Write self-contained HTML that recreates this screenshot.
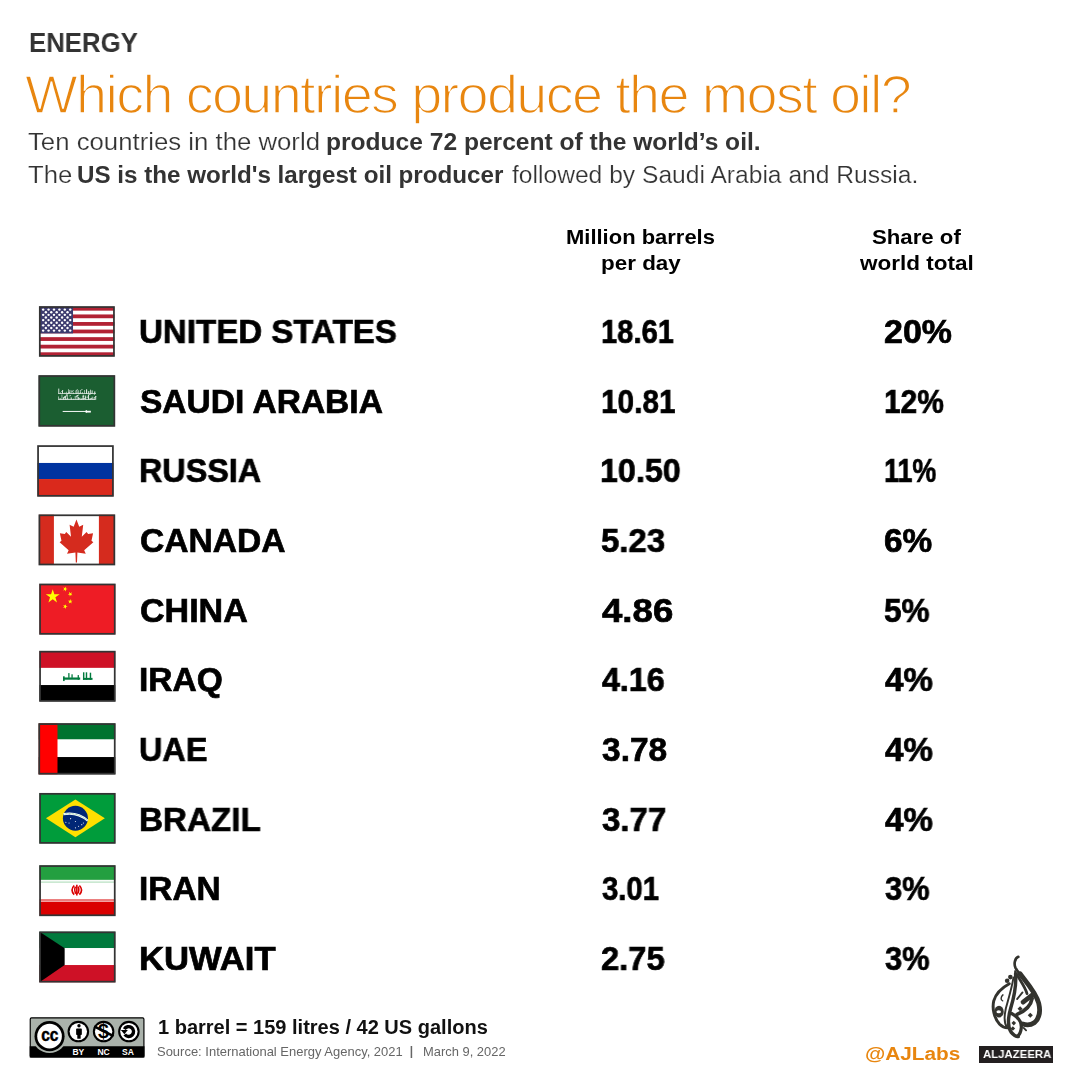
<!DOCTYPE html>
<html><head><meta charset="utf-8"><style>
html,body{margin:0;padding:0;background:#fff;width:1080px;height:1080px;overflow:hidden;position:relative}
.t{position:absolute;white-space:nowrap;font-family:"Liberation Sans",sans-serif;transform-origin:0 0;will-change:transform}
.f{position:absolute;display:block}
</style></head><body>
<svg class="f" style="left:34px;top:302px" width="86" height="60" viewBox="0 0 1080 753"><defs><clipPath id="c302"><rect x="67" y="57" width="943" height="626"/></clipPath></defs><g clip-path="url(#c302)"><rect x="62" y="52" width="953" height="636" fill="#fff"/><rect x="62" y="61.0" width="953" height="47.5" fill="#B22234"/><rect x="62" y="156.1" width="953" height="47.5" fill="#B22234"/><rect x="62" y="251.2" width="953" height="47.5" fill="#B22234"/><rect x="62" y="346.2" width="953" height="47.5" fill="#B22234"/><rect x="62" y="441.3" width="953" height="47.5" fill="#B22234"/><rect x="62" y="536.4" width="953" height="47.5" fill="#B22234"/><rect x="62" y="631.5" width="953" height="47.5" fill="#B22234"/><rect x="62" y="52" width="428" height="341.8" fill="#3C3B6E"/><circle cx="115" cy="95" r="15" fill="#fff"/><circle cx="183" cy="95" r="15" fill="#fff"/><circle cx="251" cy="95" r="15" fill="#fff"/><circle cx="319" cy="95" r="15" fill="#fff"/><circle cx="387" cy="95" r="15" fill="#fff"/><circle cx="455" cy="95" r="15" fill="#fff"/><circle cx="149" cy="128" r="15" fill="#fff"/><circle cx="217" cy="128" r="15" fill="#fff"/><circle cx="285" cy="128" r="15" fill="#fff"/><circle cx="353" cy="128" r="15" fill="#fff"/><circle cx="421" cy="128" r="15" fill="#fff"/><circle cx="115" cy="161" r="15" fill="#fff"/><circle cx="183" cy="161" r="15" fill="#fff"/><circle cx="251" cy="161" r="15" fill="#fff"/><circle cx="319" cy="161" r="15" fill="#fff"/><circle cx="387" cy="161" r="15" fill="#fff"/><circle cx="455" cy="161" r="15" fill="#fff"/><circle cx="149" cy="194" r="15" fill="#fff"/><circle cx="217" cy="194" r="15" fill="#fff"/><circle cx="285" cy="194" r="15" fill="#fff"/><circle cx="353" cy="194" r="15" fill="#fff"/><circle cx="421" cy="194" r="15" fill="#fff"/><circle cx="115" cy="227" r="15" fill="#fff"/><circle cx="183" cy="227" r="15" fill="#fff"/><circle cx="251" cy="227" r="15" fill="#fff"/><circle cx="319" cy="227" r="15" fill="#fff"/><circle cx="387" cy="227" r="15" fill="#fff"/><circle cx="455" cy="227" r="15" fill="#fff"/><circle cx="149" cy="260" r="15" fill="#fff"/><circle cx="217" cy="260" r="15" fill="#fff"/><circle cx="285" cy="260" r="15" fill="#fff"/><circle cx="353" cy="260" r="15" fill="#fff"/><circle cx="421" cy="260" r="15" fill="#fff"/><circle cx="115" cy="293" r="15" fill="#fff"/><circle cx="183" cy="293" r="15" fill="#fff"/><circle cx="251" cy="293" r="15" fill="#fff"/><circle cx="319" cy="293" r="15" fill="#fff"/><circle cx="387" cy="293" r="15" fill="#fff"/><circle cx="455" cy="293" r="15" fill="#fff"/><circle cx="149" cy="326" r="15" fill="#fff"/><circle cx="217" cy="326" r="15" fill="#fff"/><circle cx="285" cy="326" r="15" fill="#fff"/><circle cx="353" cy="326" r="15" fill="#fff"/><circle cx="421" cy="326" r="15" fill="#fff"/><circle cx="115" cy="359" r="15" fill="#fff"/><circle cx="183" cy="359" r="15" fill="#fff"/><circle cx="251" cy="359" r="15" fill="#fff"/><circle cx="319" cy="359" r="15" fill="#fff"/><circle cx="387" cy="359" r="15" fill="#fff"/><circle cx="455" cy="359" r="15" fill="#fff"/></g><rect x="73" y="63" width="931" height="614" fill="none" stroke="#333333" stroke-width="22"/></svg><svg class="f" style="left:34px;top:370px" width="86" height="60" viewBox="0 0 1080 753"><defs><clipPath id="c370"><rect x="60" y="70" width="955" height="637"/></clipPath></defs><g clip-path="url(#c370)"><rect x="0" y="0" width="1080" height="753" fill="#1B5E31"/><g fill="#fff" opacity="0.85"><rect x="305" y="233" width="12" height="67"/><rect x="329" y="281" width="8" height="19"/><rect x="352" y="253" width="12" height="47"/><rect x="384" y="283" width="10" height="17"/><rect x="407" y="272" width="8" height="28"/><rect x="430" y="240" width="8" height="60"/><rect x="446" y="250" width="10" height="50"/><rect x="472" y="253" width="8" height="47"/><rect x="492" y="282" width="10" height="18"/><rect x="522" y="262" width="12" height="38"/><rect x="548" y="254" width="12" height="46"/><rect x="577" y="253" width="8" height="47"/><rect x="601" y="280" width="12" height="20"/><rect x="631" y="251" width="8" height="49"/><rect x="653" y="242" width="14" height="58"/><rect x="680" y="265" width="14" height="35"/><rect x="704" y="247" width="10" height="53"/><rect x="724" y="256" width="12" height="44"/><rect x="756" y="269" width="14" height="31"/><rect x="305" y="290" width="465" height="10"/><rect x="305" y="332" width="8" height="43"/><rect x="322" y="352" width="12" height="23"/><rect x="347" y="307" width="8" height="68"/><rect x="363" y="341" width="12" height="34"/><rect x="386" y="328" width="14" height="47"/><rect x="414" y="308" width="8" height="67"/><rect x="435" y="357" width="8" height="18"/><rect x="460" y="344" width="14" height="31"/><rect x="487" y="359" width="12" height="16"/><rect x="512" y="326" width="10" height="49"/><rect x="536" y="318" width="10" height="57"/><rect x="554" y="338" width="10" height="37"/><rect x="585" y="356" width="14" height="19"/><rect x="612" y="311" width="12" height="64"/><rect x="643" y="321" width="12" height="54"/><rect x="677" y="307" width="14" height="68"/><rect x="699" y="352" width="10" height="23"/><rect x="726" y="333" width="8" height="42"/><rect x="749" y="344" width="12" height="31"/><rect x="769" y="326" width="12" height="49"/><rect x="305" y="365" width="465" height="10"/><rect x="366" y="352" width="44" height="9" transform="rotate(-30 366 352)"/><rect x="605" y="336" width="29" height="9" transform="rotate(-30 605 336)"/><rect x="702" y="364" width="35" height="9" transform="rotate(-30 702 364)"/><rect x="562" y="292" width="27" height="9" transform="rotate(-30 562 292)"/><rect x="527" y="292" width="21" height="9" transform="rotate(-30 527 292)"/><rect x="753" y="297" width="18" height="9" transform="rotate(-30 753 297)"/><rect x="580" y="253" width="32" height="9" transform="rotate(-30 580 253)"/><rect x="551" y="363" width="33" height="9" transform="rotate(-30 551 363)"/><rect x="342" y="267" width="26" height="9" transform="rotate(-30 342 267)"/><rect x="595" y="364" width="33" height="9" transform="rotate(-30 595 364)"/><rect x="523" y="255" width="30" height="9" transform="rotate(-30 523 255)"/><rect x="750" y="302" width="24" height="9" transform="rotate(-30 750 302)"/><rect x="375" y="337" width="37" height="9" transform="rotate(-30 375 337)"/><rect x="525" y="330" width="30" height="9" transform="rotate(-30 525 330)"/><rect x="402" y="364" width="26" height="9" transform="rotate(-30 402 364)"/><rect x="621" y="359" width="38" height="9" transform="rotate(-30 621 359)"/><rect x="444" y="324" width="18" height="9" transform="rotate(-30 444 324)"/><rect x="690" y="307" width="42" height="9" transform="rotate(-30 690 307)"/><rect x="470" y="269" width="31" height="9" transform="rotate(-30 470 269)"/><rect x="536" y="323" width="33" height="9" transform="rotate(-30 536 323)"/><rect x="665" y="339" width="21" height="9" transform="rotate(-30 665 339)"/><rect x="418" y="292" width="39" height="9" transform="rotate(-30 418 292)"/><rect x="400" y="304" width="37" height="9" transform="rotate(-30 400 304)"/><rect x="755" y="343" width="29" height="9" transform="rotate(-30 755 343)"/><rect x="397" y="319" width="25" height="9" transform="rotate(-30 397 319)"/></g><rect x="360" y="514" width="300" height="12" fill="#fff"/><rect x="648" y="505" width="18" height="32" fill="#fff"/><rect x="662" y="512" width="52" height="22" fill="#fff"/></g><rect x="66" y="76" width="943" height="625" fill="none" stroke="#333333" stroke-width="22"/></svg><svg class="f" style="left:34px;top:440px" width="86" height="60" viewBox="0 0 1080 753"><defs><clipPath id="c440"><rect x="45" y="70" width="952" height="637"/></clipPath></defs><g clip-path="url(#c440)"><rect width="1080" height="288" fill="#fff"/><rect y="288" width="1080" height="202" fill="#0033A0"/><rect y="490" width="1080" height="263" fill="#DA291C"/></g><rect x="51" y="76" width="940" height="625" fill="none" stroke="#333333" stroke-width="22"/></svg><svg class="f" style="left:34px;top:510px" width="86" height="60" viewBox="0 0 1080 753"><defs><clipPath id="c510"><rect x="62" y="60" width="953" height="630"/></clipPath></defs><g clip-path="url(#c510)"><rect width="1080" height="753" fill="#fff"/><rect width="250" height="753" fill="#D52B1E"/><rect x="815" width="265" height="753" fill="#D52B1E"/><polygon points="533,118 568,210 618,185 600,335 660,275 680,300 742,292 722,385 745,405 630,505 650,548 545,532 540,660 525,660 520,532 415,548 435,505 322,405 345,385 325,292 387,300 405,275 465,335 447,185 498,210" fill="#D52B1E"/></g><rect x="68" y="66" width="941" height="618" fill="none" stroke="#333333" stroke-width="22"/></svg><svg class="f" style="left:34px;top:578px" width="86" height="60" viewBox="0 0 1080 753"><defs><clipPath id="c578"><rect x="70" y="75" width="950" height="632"/></clipPath></defs><g clip-path="url(#c578)"><rect width="1080" height="753" fill="#EE1C25"/><polygon points="235.0,140.0 255.7,203.6 322.5,203.6 268.4,242.9 289.1,306.4 235.0,267.1 180.9,306.4 201.6,242.9 147.5,203.6 214.3,203.6" fill="#FFFF00"/><polygon points="402.9,107.9 402.1,131.2 424.0,139.1 401.6,145.5 400.8,168.8 387.8,149.5 365.5,155.9 379.8,137.6 366.8,118.3 388.6,126.2" fill="#FFFF00"/><polygon points="477.6,179.4 467.1,200.1 483.5,216.5 460.5,212.9 450.0,233.6 446.4,210.6 423.4,207.0 444.1,196.5 440.5,173.5 456.9,189.9" fill="#FFFF00"/><polygon points="455.0,263.0 462.2,285.1 485.4,285.1 466.6,298.8 473.8,320.9 455.0,307.2 436.2,320.9 443.4,298.8 424.6,285.1 447.8,285.1" fill="#FFFF00"/><polygon points="402.9,327.9 402.1,351.2 424.0,359.1 401.6,365.5 400.8,388.8 387.8,369.5 365.5,375.9 379.8,357.6 366.8,338.3 388.6,346.2" fill="#FFFF00"/></g><rect x="76" y="81" width="938" height="620" fill="none" stroke="#333333" stroke-width="22"/></svg><svg class="f" style="left:34px;top:646px" width="86" height="60" viewBox="0 0 1080 753"><defs><clipPath id="c646"><rect x="70" y="65" width="950" height="630"/></clipPath></defs><g clip-path="url(#c646)"><rect width="1080" height="275" fill="#CE1126"/><rect y="275" width="1080" height="215" fill="#fff"/><rect y="490" width="1080" height="263" fill="#000"/><g fill="#007A3D"><rect x="615" y="330" width="18" height="95"/><rect x="650" y="330" width="18" height="95"/><rect x="700" y="335" width="18" height="90"/><rect x="615" y="400" width="120" height="25"/><rect x="548" y="365" width="16" height="60"/><rect x="365" y="395" width="215" height="28"/><rect x="430" y="340" width="16" height="60"/><rect x="470" y="355" width="16" height="45"/><rect x="365" y="380" width="20" height="60"/></g></g><rect x="76" y="71" width="938" height="618" fill="none" stroke="#333333" stroke-width="22"/></svg><svg class="f" style="left:34px;top:718px" width="86" height="60" viewBox="0 0 1080 753"><defs><clipPath id="c718"><rect x="60" y="70" width="960" height="635"/></clipPath></defs><g clip-path="url(#c718)"><rect width="1080" height="270" fill="#00732F"/><rect y="270" width="1080" height="220" fill="#fff"/><rect y="490" width="1080" height="263" fill="#000"/><rect width="295" height="753" fill="#FF0000"/></g><rect x="66" y="76" width="948" height="623" fill="none" stroke="#333333" stroke-width="22"/></svg><svg class="f" style="left:34px;top:788px" width="86" height="60" viewBox="0 0 1080 753"><defs><clipPath id="c788"><rect x="70" y="67" width="950" height="628"/></clipPath></defs><g clip-path="url(#c788)"><rect width="1080" height="753" fill="#009C3B"/><polygon points="150,380 520,145 890,380 520,618" fill="#FEDF00"/><circle cx="520" cy="380" r="157" fill="#002776"/><path d="M368,330 Q540,295 675,410" stroke="#fff" stroke-width="26" fill="none"/><path d="M368,330 Q540,295 675,410" stroke="#2E9E50" stroke-width="8" stroke-dasharray="10 8" fill="none"/><circle cx="400" cy="430" r="7" fill="#fff"/><circle cx="440" cy="440" r="7" fill="#fff"/><circle cx="520" cy="420" r="7" fill="#fff"/><circle cx="560" cy="480" r="7" fill="#fff"/><circle cx="600" cy="460" r="7" fill="#fff"/><circle cx="620" cy="440" r="7" fill="#fff"/><circle cx="460" cy="385" r="7" fill="#fff"/><circle cx="520" cy="500" r="7" fill="#fff"/></g><rect x="76" y="73" width="938" height="616" fill="none" stroke="#333333" stroke-width="22"/></svg><svg class="f" style="left:34px;top:860px" width="86" height="60" viewBox="0 0 1080 753"><defs><clipPath id="c860"><rect x="70" y="70" width="950" height="630"/></clipPath></defs><g clip-path="url(#c860)"><rect width="1080" height="255" fill="#239F40"/><rect y="255" width="1080" height="245" fill="#fff"/><rect y="500" width="1080" height="253" fill="#DA0000"/><rect y="248" width="1080" height="18" fill="#fff" opacity="0.7"/><rect y="272" width="1080" height="10" fill="#239F40" opacity="0.5"/><rect y="492" width="1080" height="10" fill="#DA0000" opacity="0.5"/><rect y="506" width="1080" height="20" fill="#fff" opacity="0.7"/><g fill="none" stroke="#DA0000" stroke-width="20"><path d="M505,320 Q450,375 505,435"/><path d="M570,320 Q625,375 570,435"/><path d="M520,335 Q498,385 530,425"/><path d="M555,335 Q577,385 545,425"/><path d="M538,312 L538,445"/></g></g><rect x="76" y="76" width="938" height="618" fill="none" stroke="#333333" stroke-width="22"/></svg><svg class="f" style="left:34px;top:926px" width="86" height="60" viewBox="0 0 1080 753"><defs><clipPath id="c926"><rect x="70" y="73" width="950" height="632"/></clipPath></defs><g clip-path="url(#c926)"><rect width="1080" height="278" fill="#007A3D"/><rect y="278" width="1080" height="212" fill="#fff"/><rect y="490" width="1080" height="263" fill="#CE1126"/><polygon points="65,68 385,278 385,490 65,710" fill="#000"/></g><rect x="76" y="79" width="938" height="620" fill="none" stroke="#333333" stroke-width="22"/></svg>
<svg class="f" style="left:20px;top:1005px" width="140" height="65" viewBox="0 0 1080 501"><rect x="79" y="99" width="877" height="302" rx="10" fill="#AAB2AB" stroke="#000" stroke-width="9"/><rect x="75" y="318" width="885" height="87" fill="#000"/><circle cx="228" cy="240" r="131" fill="#AAB2AB"/><circle cx="228" cy="240" r="116" fill="#000"/><circle cx="228" cy="240" r="95" fill="#fff"/><text x="163" y="277" font-family="Liberation Sans" font-weight="700" font-size="142" fill="#000" textLength="133" lengthAdjust="spacingAndGlyphs" stroke="#000" stroke-width="4">cc</text><circle cx="450" cy="205" r="83" fill="#000"/><circle cx="450" cy="205" r="67" fill="#fff"/><circle cx="645" cy="205" r="83" fill="#000"/><circle cx="645" cy="205" r="67" fill="#fff"/><circle cx="840" cy="205" r="83" fill="#000"/><circle cx="840" cy="205" r="67" fill="#fff"/><circle cx="455" cy="160" r="13" fill="#000"/><rect x="433" y="182" width="44" height="50" rx="6" fill="#000"/><rect x="442" y="225" width="26" height="35" fill="#000"/><text x="643" y="258" text-anchor="middle" font-family="Liberation Sans" font-weight="700" font-size="150" fill="#000">$</text><line x1="572" y1="165" x2="722" y2="240" stroke="#000" stroke-width="20"/><path d="M805,186 A38,38 0 1 1 808,228" fill="none" stroke="#000" stroke-width="26"/><polygon points="778,192 832,192 805,226" fill="#000"/><text x="450" y="385" text-anchor="middle" font-family="Liberation Sans" font-weight="700" font-size="66" fill="#fff">BY</text><text x="645" y="385" text-anchor="middle" font-family="Liberation Sans" font-weight="700" font-size="66" fill="#fff">NC</text><text x="833" y="385" text-anchor="middle" font-family="Liberation Sans" font-weight="700" font-size="66" fill="#fff">SA</text></svg>
<svg class="f" style="left:980px;top:950px" width="80" height="95" viewBox="0 0 909 1080"><path d="M436,78 C398,92 382,150 402,200 C420,240 445,262 470,290" fill="none" stroke="#33332E" stroke-width="30" stroke-linecap="round"/><path d="M432,76 C412,90 400,120 402,150" fill="none" stroke="#33332E" stroke-width="12" stroke-linecap="round"/><path d="M398,232 L405,300" fill="none" stroke="#33332E" stroke-width="22"/><g transform="translate(113.6,284.2) scale(0.6837)"><g fill="none" stroke="#33332E" stroke-linecap="round"><path d="M500,-20 C600,110 770,300 810,470 C845,620 815,730 735,795 C670,840 600,835 545,815" stroke-width="80"/><path d="M440,-20 C500,90 585,200 615,310" stroke-width="46"/><path d="M550,450 L700,335" stroke-width="81"/><path d="M700,390 C680,510 600,590 450,655" stroke-width="62"/><path d="M425,-20 C440,150 405,350 345,550 C295,720 285,850 350,950 C395,1005 440,1025 470,1025" stroke-width="57"/><path d="M360,640 C450,690 530,770 520,880 C512,960 485,1000 455,1020" stroke-width="54"/><path d="M320,145 C200,210 100,300 62,430 C32,560 70,720 160,820 C215,875 265,880 300,878" stroke-width="49"/><path d="M390,40 C372,180 312,380 262,560 C232,700 232,800 282,870" stroke-width="32"/><path d="M215,330 C180,360 172,420 210,430" stroke-width="24"/><path d="M540,290 L450,400" stroke-width="30"/><path d="M560,880 L600,920" stroke-width="30"/></g><g fill="#33332E"><circle cx="338" cy="35" r="38"/><circle cx="285" cy="96" r="38"/><ellipse cx="150" cy="610" rx="78" ry="98"/><rect x="470" y="530" width="60" height="60" transform="rotate(45 500 560)"/><rect x="640" y="640" width="60" height="60" transform="rotate(45 670 670)"/><rect x="368" y="773" width="54" height="54" transform="rotate(45 395 800)"/><rect x="353" y="863" width="54" height="54" transform="rotate(45 380 890)"/></g><ellipse cx="145" cy="612" rx="38" ry="26" fill="#fff"/></g></svg><div style="position:absolute;left:979px;top:1046px;width:74px;height:17px;background:#231F20"></div>
<div class="t" style="left:28.73px;top:28.80px;font-size:27.6px;line-height:27.6px;font-weight:700;color:#333;transform:scaleX(0.9333);">ENERGY</div>
<div class="t" style="left:25.07px;top:67.00px;font-size:54px;line-height:54px;font-weight:400;color:#E8860F;transform:scaleX(1.0338);-webkit-text-stroke:1.5px #fff;letter-spacing:-1.6px;">Which countries produce the most oil?</div>
<div class="t" style="left:28.08px;top:131.00px;font-size:23px;line-height:23px;font-weight:400;color:#333;transform:scaleX(1.1194);-webkit-text-stroke:0.2px #fff;">Ten countries in the world</div>
<div class="t" style="left:326.33px;top:131.00px;font-size:23px;line-height:23px;font-weight:700;color:#333;transform:scaleX(1.0683);">produce 72 percent of the world’s oil.</div>
<div class="t" style="left:28.18px;top:163.60px;font-size:23px;line-height:23px;font-weight:400;color:#333;transform:scaleX(1.1162);-webkit-text-stroke:0.2px #fff;">The</div>
<div class="t" style="left:77.15px;top:163.60px;font-size:23px;line-height:23px;font-weight:700;color:#333;transform:scaleX(1.0515);">US is the world's largest oil producer</div>
<div class="t" style="left:511.50px;top:163.60px;font-size:23px;line-height:23px;font-weight:400;color:#333;transform:scaleX(1.0701);-webkit-text-stroke:0.2px #fff;">followed by Saudi Arabia and Russia.</div>
<div class="t" style="left:566.45px;top:225.70px;font-size:21px;line-height:21px;font-weight:700;color:#000;transform:scaleX(1.0461);">Million barrels</div>
<div class="t" style="left:601.43px;top:251.50px;font-size:21px;line-height:21px;font-weight:700;color:#000;transform:scaleX(1.0685);">per day</div>
<div class="t" style="left:871.54px;top:225.70px;font-size:21px;line-height:21px;font-weight:700;color:#000;transform:scaleX(1.0566);">Share of</div>
<div class="t" style="left:859.70px;top:251.50px;font-size:21px;line-height:21px;font-weight:700;color:#000;transform:scaleX(1.0724);">world total</div>
<div class="t" style="left:158.18px;top:1017.80px;font-size:19.6px;line-height:19.6px;font-weight:700;color:#111;transform:scaleX(1.0212);">1 barrel = 159 litres / 42 US gallons</div>
<div class="t" style="left:156.95px;top:1045.80px;font-size:12.4px;line-height:12.4px;font-weight:400;color:#666;transform:scaleX(1.0472);">Source: International Energy Agency, 2021</div>
<div class="t" style="left:409.00px;top:1045.00px;font-size:12.4px;line-height:12.4px;font-weight:400;color:#666;transform:scaleX(1.5000);">|</div>
<div class="t" style="left:422.76px;top:1045.80px;font-size:12.4px;line-height:12.4px;font-weight:400;color:#666;transform:scaleX(1.0423);">March 9, 2022</div>
<div class="t" style="left:982.50px;top:1049.20px;font-size:11.8px;line-height:11.8px;font-weight:700;color:#fff;transform:scaleX(0.9643);">ALJAZEERA</div>
<div class="t" style="left:865.10px;top:1045.00px;font-size:18.9px;line-height:18.9px;font-weight:700;color:#E8860F;transform:scaleX(1.0988);">@AJLabs</div>
<div class="t" style="left:138.62px;top:315.00px;font-size:33.4px;line-height:33.4px;font-weight:700;color:#000;transform:scaleX(0.9907);-webkit-text-stroke:0.7px #000;">UNITED STATES</div>
<div class="t" style="left:600.55px;top:315.00px;font-size:33.4px;line-height:33.4px;font-weight:700;color:#000;transform:scaleX(0.8728);-webkit-text-stroke:0.7px #000;">18.61</div>
<div class="t" style="left:884.28px;top:315.00px;font-size:33.4px;line-height:33.4px;font-weight:700;color:#000;transform:scaleX(1.0167);-webkit-text-stroke:0.7px #000;">20%</div>
<div class="t" style="left:139.60px;top:384.67px;font-size:33.4px;line-height:33.4px;font-weight:700;color:#000;transform:scaleX(1.0046);-webkit-text-stroke:0.7px #000;">SAUDI ARABIA</div>
<div class="t" style="left:600.52px;top:384.67px;font-size:33.4px;line-height:33.4px;font-weight:700;color:#000;transform:scaleX(0.8914);-webkit-text-stroke:0.7px #000;">10.81</div>
<div class="t" style="left:883.51px;top:384.67px;font-size:33.4px;line-height:33.4px;font-weight:700;color:#000;transform:scaleX(0.8954);-webkit-text-stroke:0.7px #000;">12%</div>
<div class="t" style="left:138.66px;top:454.34px;font-size:33.4px;line-height:33.4px;font-weight:700;color:#000;transform:scaleX(0.9685);-webkit-text-stroke:0.7px #000;">RUSSIA</div>
<div class="t" style="left:600.37px;top:454.34px;font-size:33.4px;line-height:33.4px;font-weight:700;color:#000;transform:scaleX(0.9654);-webkit-text-stroke:0.7px #000;">10.50</div>
<div class="t" style="left:883.69px;top:454.34px;font-size:33.4px;line-height:33.4px;font-weight:700;color:#000;transform:scaleX(0.8048);-webkit-text-stroke:0.7px #000;">11%</div>
<div class="t" style="left:139.59px;top:524.01px;font-size:33.4px;line-height:33.4px;font-weight:700;color:#000;transform:scaleX(1.0063);-webkit-text-stroke:0.7px #000;">CANADA</div>
<div class="t" style="left:601.31px;top:524.01px;font-size:33.4px;line-height:33.4px;font-weight:700;color:#000;transform:scaleX(0.9873);-webkit-text-stroke:0.7px #000;">5.23</div>
<div class="t" style="left:884.31px;top:524.01px;font-size:33.4px;line-height:33.4px;font-weight:700;color:#000;transform:scaleX(0.9936);-webkit-text-stroke:0.7px #000;">6%</div>
<div class="t" style="left:139.58px;top:593.68px;font-size:33.4px;line-height:33.4px;font-weight:700;color:#000;transform:scaleX(1.0192);-webkit-text-stroke:0.7px #000;">CHINA</div>
<div class="t" style="left:602.30px;top:593.68px;font-size:33.4px;line-height:33.4px;font-weight:700;color:#000;transform:scaleX(1.0969);-webkit-text-stroke:0.7px #000;">4.86</div>
<div class="t" style="left:884.36px;top:593.68px;font-size:33.4px;line-height:33.4px;font-weight:700;color:#000;transform:scaleX(0.9447);-webkit-text-stroke:0.7px #000;">5%</div>
<div class="t" style="left:138.59px;top:663.35px;font-size:33.4px;line-height:33.4px;font-weight:700;color:#000;transform:scaleX(1.0037);-webkit-text-stroke:0.7px #000;">IRAQ</div>
<div class="t" style="left:602.30px;top:663.35px;font-size:33.4px;line-height:33.4px;font-weight:700;color:#000;transform:scaleX(0.9641);-webkit-text-stroke:0.7px #000;">4.16</div>
<div class="t" style="left:885.30px;top:663.35px;font-size:33.4px;line-height:33.4px;font-weight:700;color:#000;transform:scaleX(0.9938);-webkit-text-stroke:0.7px #000;">4%</div>
<div class="t" style="left:138.66px;top:733.02px;font-size:33.4px;line-height:33.4px;font-weight:700;color:#000;transform:scaleX(0.9706);-webkit-text-stroke:0.7px #000;">UAE</div>
<div class="t" style="left:602.30px;top:733.02px;font-size:33.4px;line-height:33.4px;font-weight:700;color:#000;transform:scaleX(1.0031);-webkit-text-stroke:0.7px #000;">3.78</div>
<div class="t" style="left:885.30px;top:733.02px;font-size:33.4px;line-height:33.4px;font-weight:700;color:#000;transform:scaleX(0.9938);-webkit-text-stroke:0.7px #000;">4%</div>
<div class="t" style="left:138.61px;top:802.69px;font-size:33.4px;line-height:33.4px;font-weight:700;color:#000;transform:scaleX(0.9950);-webkit-text-stroke:0.7px #000;">BRAZIL</div>
<div class="t" style="left:602.30px;top:802.69px;font-size:33.4px;line-height:33.4px;font-weight:700;color:#000;transform:scaleX(0.9891);-webkit-text-stroke:0.7px #000;">3.77</div>
<div class="t" style="left:885.30px;top:802.69px;font-size:33.4px;line-height:33.4px;font-weight:700;color:#000;transform:scaleX(0.9938);-webkit-text-stroke:0.7px #000;">4%</div>
<div class="t" style="left:138.60px;top:872.36px;font-size:33.4px;line-height:33.4px;font-weight:700;color:#000;transform:scaleX(1.0000);-webkit-text-stroke:0.7px #000;">IRAN</div>
<div class="t" style="left:602.30px;top:872.36px;font-size:33.4px;line-height:33.4px;font-weight:700;color:#000;transform:scaleX(0.8769);-webkit-text-stroke:0.7px #000;">3.01</div>
<div class="t" style="left:885.30px;top:872.36px;font-size:33.4px;line-height:33.4px;font-weight:700;color:#000;transform:scaleX(0.9250);-webkit-text-stroke:0.7px #000;">3%</div>
<div class="t" style="left:138.52px;top:942.03px;font-size:33.4px;line-height:33.4px;font-weight:700;color:#000;transform:scaleX(1.0377);-webkit-text-stroke:0.7px #000;">KUWAIT</div>
<div class="t" style="left:601.32px;top:942.03px;font-size:33.4px;line-height:33.4px;font-weight:700;color:#000;transform:scaleX(0.9797);-webkit-text-stroke:0.7px #000;">2.75</div>
<div class="t" style="left:885.30px;top:942.03px;font-size:33.4px;line-height:33.4px;font-weight:700;color:#000;transform:scaleX(0.9250);-webkit-text-stroke:0.7px #000;">3%</div>
</body></html>
